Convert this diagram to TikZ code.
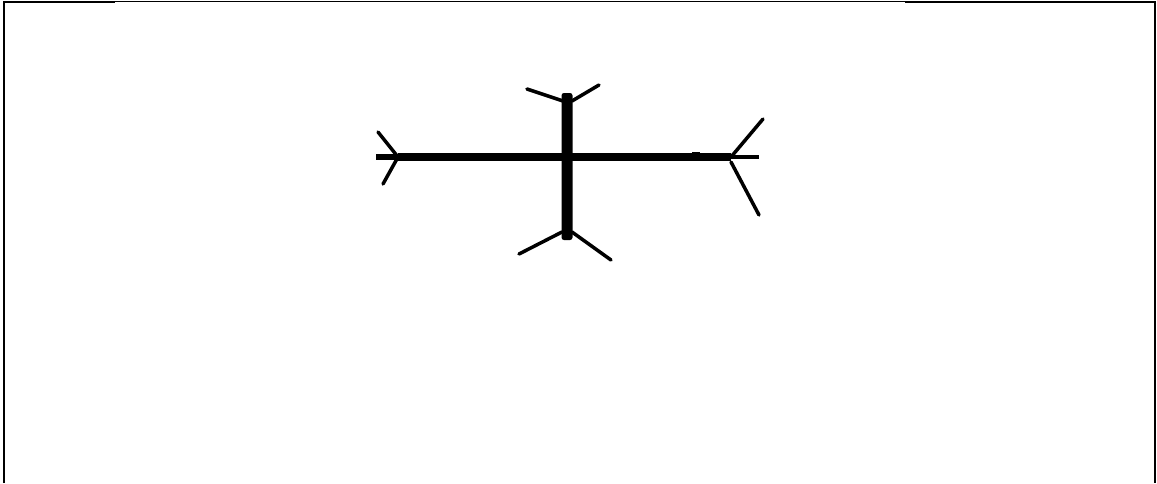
\documentclass[tikz,border=0pt]{standalone}
\begin{document}
\begin{tikzpicture}[x=1pt,y=-1pt,
  bar/.style={line width=8pt},
  fin/.style={line width=3.5pt,line cap=round},
  frame/.style={line width=2.2pt}]
\useasboundingbox (0,0) rectangle (1157,483);
% frame
\draw[frame] (4,483) -- (4,2) -- (115,2);
\draw[line width=1.4pt] (115,1.5) -- (905,1.5);
\draw[frame] (905,2) -- (1155,2) -- (1155,483);
% named points
\coordinate (L) at (398,157);
\coordinate (R) at (731,157);
% horizontal bar
\draw[bar] (L) -- (R);
\draw[line width=6pt] (376,157) -- (L);
\draw[line width=4pt] (R) -- (759,157);
\draw[line width=4pt] (692,153.5) -- (700,153.5);
% vertical bar
\fill[rounded corners=2.5pt] (561.5,93) rectangle (572.5,240);
% left fins
\draw[fin] (L) -- (378,132);
\draw[fin] (L) -- (383,184);
% top fins
\draw[fin] (563,101) -- (527,89);
\draw[fin] (572,101) -- (599,85);
% bottom fins
\draw[fin] (562,232) -- (519,254);
\draw[fin] (572,232) -- (611,260);
% right fins
\draw[fin] (R) -- (763,119);
\draw[fin] (731,162) -- (759,215);
\end{tikzpicture}
\end{document}
